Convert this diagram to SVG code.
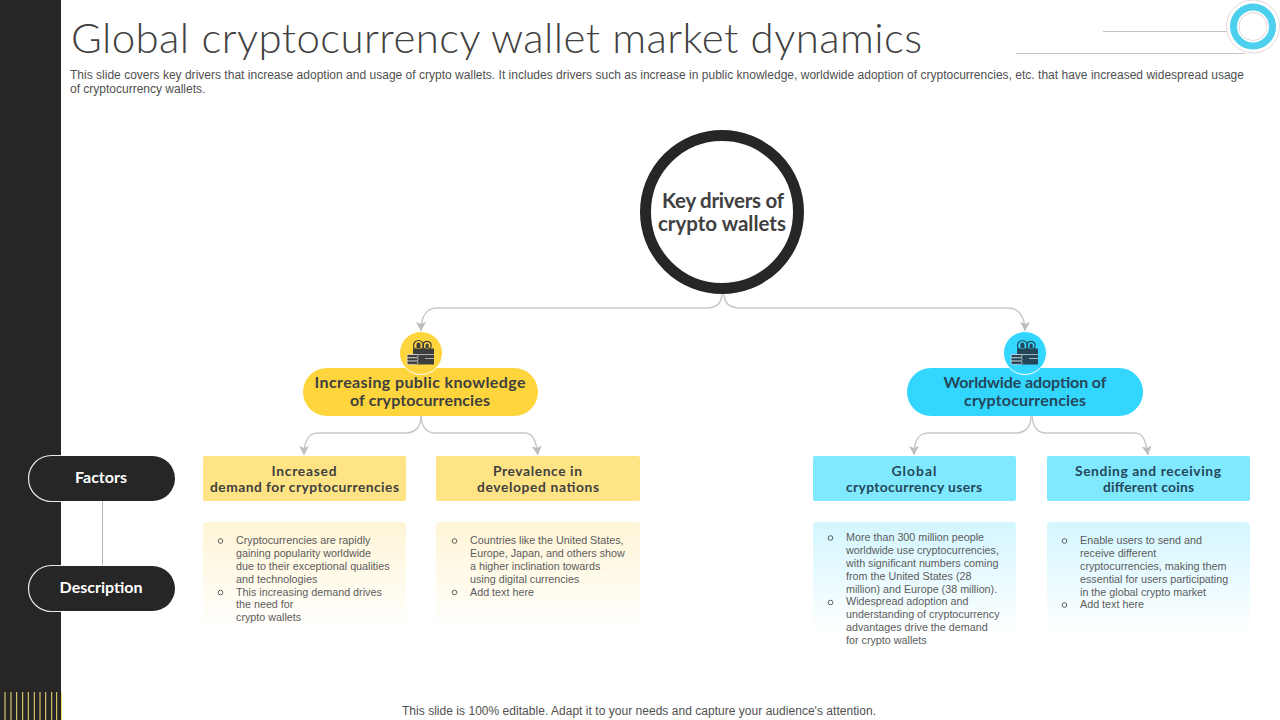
<svg xmlns="http://www.w3.org/2000/svg" width="1280" height="720" viewBox="0 0 1280 720">
<style>
text{font-family:"Liberation Sans",Arial,sans-serif}
.h{font-family:Lato,"Liberation Sans",sans-serif;font-weight:700;text-anchor:middle;fill:#404040}
.hb{fill:#24475a}
.d{font-size:10.75px;fill:#5c5c5c}
.sub{font-size:12px;fill:#505050}
.conn{fill:none;stroke:#c8c8c8;stroke-width:1.5}
.tag{fill:#262626;stroke:none}
.tago{fill:none;stroke:#e8e8e8;stroke-width:1.2}
.tagt{font-family:Lato,sans-serif;font-weight:700;font-size:16px;fill:#fff;text-anchor:middle}
.bul{fill:none;stroke:#505050;stroke-width:.9}
.l1{font-size:16px}
.l2{font-size:13.800px}
</style>
<defs>
<marker id="a" markerWidth="10" markerHeight="10" refX="9" refY="5" orient="auto" markerUnits="userSpaceOnUse" viewBox="0 0 10 10"><path d="M0 0L9 5L0 10L2 5Z" fill="#bdbdbd"/></marker>
<linearGradient id="gy" x1="0" y1="0" x2="0" y2="1"><stop offset="0" stop-color="#fff5d6"/><stop offset="1" stop-color="#fff"/></linearGradient>
<linearGradient id="gb" x1="0" y1="0" x2="0" y2="1"><stop offset="0" stop-color="#d3f6ff"/><stop offset="1" stop-color="#fff"/></linearGradient>
<g id="wallet">
<circle cx="-2.500" cy="-6.500" r="5" fill="none" stroke="currentColor" stroke-width="1.200"/>
<circle cx="6" cy="-6.500" r="4.200" fill="none" stroke="currentColor" stroke-width="1.200"/>
<path d="M-4.500-7.500a2 2 0 0 1 4 0v3.500h-4zM4.500-7a1.600 1.600 0 0 1 3.200 0v3h-3.200z" fill="currentColor"/>
<rect x="-8" y="-3.500" width="21" height="16" fill="currentColor"/>
<path d="M-8 2.500H13M4 6.500H13" stroke="#fff" stroke-opacity=".65" stroke-width=".9" fill="none"/>
<rect x="-14" y="2.500" width="11" height="3.300" rx="1.400" fill="currentColor" stroke="#fff" stroke-width=".6"/>
<rect x="-14" y="5.800" width="11" height="3.300" rx="1.400" fill="currentColor" stroke="#fff" stroke-width=".6"/>
<rect x="-14" y="9.100" width="11" height="3.300" rx="1.400" fill="currentColor" stroke="#fff" stroke-width=".6"/>
</g>
</defs>
<rect width="1280" height="720" fill="#fff"/>
<rect width="61" height="720" fill="#262626"/>
<path d="M5 692V720M11 692V720M16.700 692V720M22.700 692V720M28.300 692V720M34.300 692V720M40 692V720M45.700 692V720M51.700 692V720M56.700 692V720M61.500 692V720" stroke="#f7e072" stroke-width="1"/>

<text x="71" y="53" font-size="42" fill="#404040" style="font-family:Lato,'Liberation Sans',sans-serif;font-weight:300" textLength="851" lengthAdjust="spacing">Global cryptocurrency wallet market dynamics</text>
<text class="sub" x="70" y="79" textLength="1174" lengthAdjust="spacing">This slide covers key drivers that increase adoption and usage of crypto wallets. It includes drivers such as increase in public knowledge, worldwide adoption of cryptocurrencies, etc. that have increased widespread usage</text>
<text class="sub" x="70" y="93">of cryptocurrency wallets.</text>

<g id="header-ornament">
<path d="M1016 53.500H1245M1103 31.500H1228" stroke="#c4c4c4" stroke-width="1" fill="none"/>
<circle cx="1253" cy="26.500" r="26.500" fill="#fff" stroke="#dccdd2" stroke-width=".8"/>
<circle cx="1253" cy="26.500" r="19.500" fill="#fff" stroke="#4dd0ee" stroke-width="7"/>
<circle cx="1253" cy="26.500" r="14" fill="#fff" stroke="#d8cccc" stroke-width=".8"/>
</g>

<g id="connectors">
<path class="conn" d="M722 293C722 303 716 308 706 308H437C427 308 421 316 421 331" marker-end="url(#a)"/>
<path class="conn" d="M724 293C724 303 730 308 740 308H1008C1018 308 1025 316 1025 331" marker-end="url(#a)"/>
<path class="conn" d="M421 416C421 427 415 433 406 433H318C309 433 304 441 304 455" marker-end="url(#a)"/>
<path class="conn" d="M421 416C422 427 426 433 435 433H525C533 433 536 441 538 455" marker-end="url(#a)"/>
<path class="conn" d="M1031 416C1031 427 1025 433 1016 433H928C919 433 914 441 914 455" marker-end="url(#a)"/>
<path class="conn" d="M1032 416C1033 427 1037 433 1046 433H1135C1143 433 1146 441 1148 455" marker-end="url(#a)"/>
<path d="M102.500 501V565" stroke="#b5b5b5" stroke-width="1" fill="none"/>
</g>

<g id="center">
<circle cx="722" cy="212" r="76.500" fill="#fff" stroke="#262626" stroke-width="11"/>
<text class="h" x="723" y="208" font-size="20.500" textLength="122" lengthAdjust="spacing">Key drivers of</text>
<text class="h" x="722" y="231" font-size="20.500" textLength="128" lengthAdjust="spacing">crypto wallets</text>
</g>

<g id="factors-tag">
<rect class="tag" x="29" y="456" width="146" height="45" rx="22.500"/>
<path class="tago" d="M61 455.500H51.500A23 23 0 0 0 51.500 501.500H61"/>
<text class="tagt" x="101" y="483">Factors</text>
</g>
<g id="description-tag">
<rect class="tag" x="29" y="566" width="146" height="45" rx="22.500"/>
<path class="tago" d="M61 565.500H51.500A23 23 0 0 0 51.500 611.500H61"/>
<text class="tagt" x="101" y="593">Description</text>
</g>

<g id="left-driver">
<rect x="303" y="368" width="235" height="48" rx="24" fill="#ffd53d"/>
<circle cx="421" cy="353" r="21.500" fill="#ffd53d" stroke="#fff" stroke-width="1"/>
<use href="#wallet" x="421" y="352" color="#3d3d3d"/>
<text class="h l1" x="420" y="388" textLength="211" lengthAdjust="spacing">Increasing public knowledge</text>
<text class="h l1" x="420" y="406" textLength="140" lengthAdjust="spacing">of cryptocurrencies</text>
</g>
<g id="right-driver">
<rect x="907" y="368" width="236" height="48" rx="24" fill="#33d6ff"/>
<circle cx="1025" cy="353" r="21.500" fill="#33d6ff" stroke="#fff" stroke-width="1"/>
<use href="#wallet" x="1025" y="352" color="#24475a"/>
<text class="h hb l1" x="1025" y="388" textLength="163" lengthAdjust="spacing">Worldwide adoption of</text>
<text class="h hb l1" x="1025" y="406" textLength="122" lengthAdjust="spacing">cryptocurrencies</text>
</g>

<g id="factor-1">
<rect x="203" y="456" width="203" height="45" rx="2" fill="#ffe485"/>
<text class="h l2" x="304" y="476" textLength="65" lengthAdjust="spacing">Increased</text>
<text class="h l2" x="304.500" y="492" textLength="189" lengthAdjust="spacing">demand for cryptocurrencies</text>
</g>
<g id="factor-2">
<rect x="436" y="456" width="204" height="45" rx="2" fill="#ffe485"/>
<text class="h l2" x="537.500" y="476" textLength="89" lengthAdjust="spacing">Prevalence in</text>
<text class="h l2" x="538" y="492" textLength="122" lengthAdjust="spacing">developed nations</text>
</g>
<g id="factor-3">
<rect x="813" y="456" width="203" height="45" rx="2" fill="#80e8ff"/>
<text class="h hb l2" x="914" y="476" textLength="45" lengthAdjust="spacing">Global</text>
<text class="h hb l2" x="914" y="492" textLength="136" lengthAdjust="spacing">cryptocurrency users</text>
</g>
<g id="factor-4">
<rect x="1047" y="456" width="203" height="45" rx="2" fill="#80e8ff"/>
<text class="h hb l2" x="1148" y="476" textLength="146" lengthAdjust="spacing">Sending and receiving</text>
<text class="h hb l2" x="1148.500" y="492" textLength="91" lengthAdjust="spacing">different coins</text>
</g>

<g id="desc-1">
<rect x="203" y="522" width="203" height="112" rx="4" fill="url(#gy)"/>
<circle class="bul" cx="220.500" cy="541" r="2.300"/>
<circle class="bul" cx="220.500" cy="592.500" r="2.300"/>
<text class="d" x="236" y="544">Cryptocurrencies are rapidly</text>
<text class="d" x="236" y="557">gaining popularity worldwide</text>
<text class="d" x="236" y="570">due to their exceptional qualities</text>
<text class="d" x="236" y="583">and technologies</text>
<text class="d" x="236" y="596">This increasing demand drives</text>
<text class="d" x="236" y="608">the need for</text>
<text class="d" x="236" y="621">crypto wallets</text>
</g>
<g id="desc-2">
<rect x="436" y="522" width="204" height="112" rx="4" fill="url(#gy)"/>
<circle class="bul" cx="454.500" cy="541" r="2.300"/>
<circle class="bul" cx="454.500" cy="592.500" r="2.300"/>
<text class="d" x="470" y="544">Countries like the United States,</text>
<text class="d" x="470" y="557">Europe, Japan, and others show</text>
<text class="d" x="470" y="570">a higher inclination towards</text>
<text class="d" x="470" y="583">using digital currencies</text>
<text class="d" x="470" y="596">Add text here</text>
</g>
<g id="desc-3">
<rect x="813" y="522" width="203" height="112" rx="4" fill="url(#gb)"/>
<circle class="bul" cx="830.500" cy="538" r="2.300"/>
<circle class="bul" cx="830.500" cy="602.500" r="2.300"/>
<text class="d" x="846" y="541">More than 300 million people</text>
<text class="d" x="846" y="554">worldwide use cryptocurrencies,</text>
<text class="d" x="846" y="567">with significant numbers coming</text>
<text class="d" x="846" y="580">from the United States (28</text>
<text class="d" x="846" y="593">million) and Europe (38 million).</text>
<text class="d" x="846" y="605">Widespread adoption and</text>
<text class="d" x="846" y="618">understanding of cryptocurrency</text>
<text class="d" x="846" y="631">advantages drive the demand</text>
<text class="d" x="846" y="644">for crypto wallets</text>
</g>
<g id="desc-4">
<rect x="1047" y="522" width="203" height="112" rx="4" fill="url(#gb)"/>
<circle class="bul" cx="1064.500" cy="541" r="2.300"/>
<circle class="bul" cx="1064.500" cy="605" r="2.300"/>
<text class="d" x="1080" y="544">Enable users to send and</text>
<text class="d" x="1080" y="557">receive different</text>
<text class="d" x="1080" y="570">cryptocurrencies, making them</text>
<text class="d" x="1080" y="583">essential for users participating</text>
<text class="d" x="1080" y="596">in the global crypto market</text>
<text class="d" x="1080" y="608">Add text here</text>
</g>

<text x="402" y="715" font-size="12" fill="#505050" textLength="474" lengthAdjust="spacing">This slide is 100% editable. Adapt it to your needs and capture your audience's attention.</text>
</svg>
